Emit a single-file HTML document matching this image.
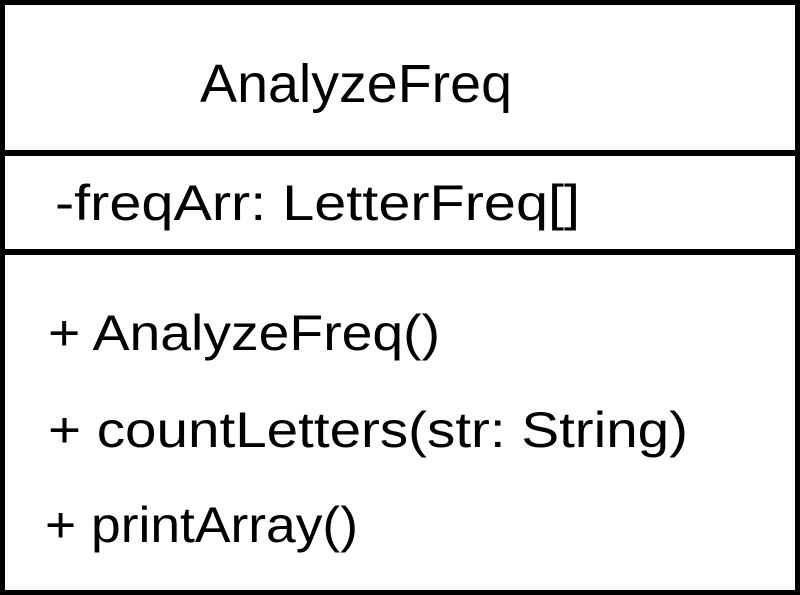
<!DOCTYPE html>
<html><head><style>html,body{margin:0;padding:0;background:#fff;width:800px;height:595px;overflow:hidden}</style></head>
<body>
<svg width="800" height="595" viewBox="0 0 800 595" xmlns="http://www.w3.org/2000/svg" font-family="Liberation Sans, sans-serif" fill="#000">
<rect x="0" y="0" width="800" height="595" fill="#fff"/>
<rect x="2.5" y="2.5" width="795" height="590" fill="none" stroke="#000" stroke-width="5"/>
<rect x="0" y="150" width="800" height="6"/>
<rect x="0" y="249" width="800" height="6"/>
<text x="200" y="102" font-size="54" textLength="312" lengthAdjust="spacingAndGlyphs">AnalyzeFreq</text>
<text x="55" y="220" font-size="50" textLength="525" lengthAdjust="spacingAndGlyphs">-freqArr: LetterFreq[]</text>
<text x="48" y="350" font-size="50" textLength="392" lengthAdjust="spacingAndGlyphs">+ AnalyzeFreq()</text>
<text x="48" y="447" font-size="50" textLength="640" lengthAdjust="spacingAndGlyphs">+ countLetters(str: String)</text>
<text x="45" y="542" font-size="50" textLength="313" lengthAdjust="spacingAndGlyphs">+ printArray()</text>
</svg>
</body></html>
